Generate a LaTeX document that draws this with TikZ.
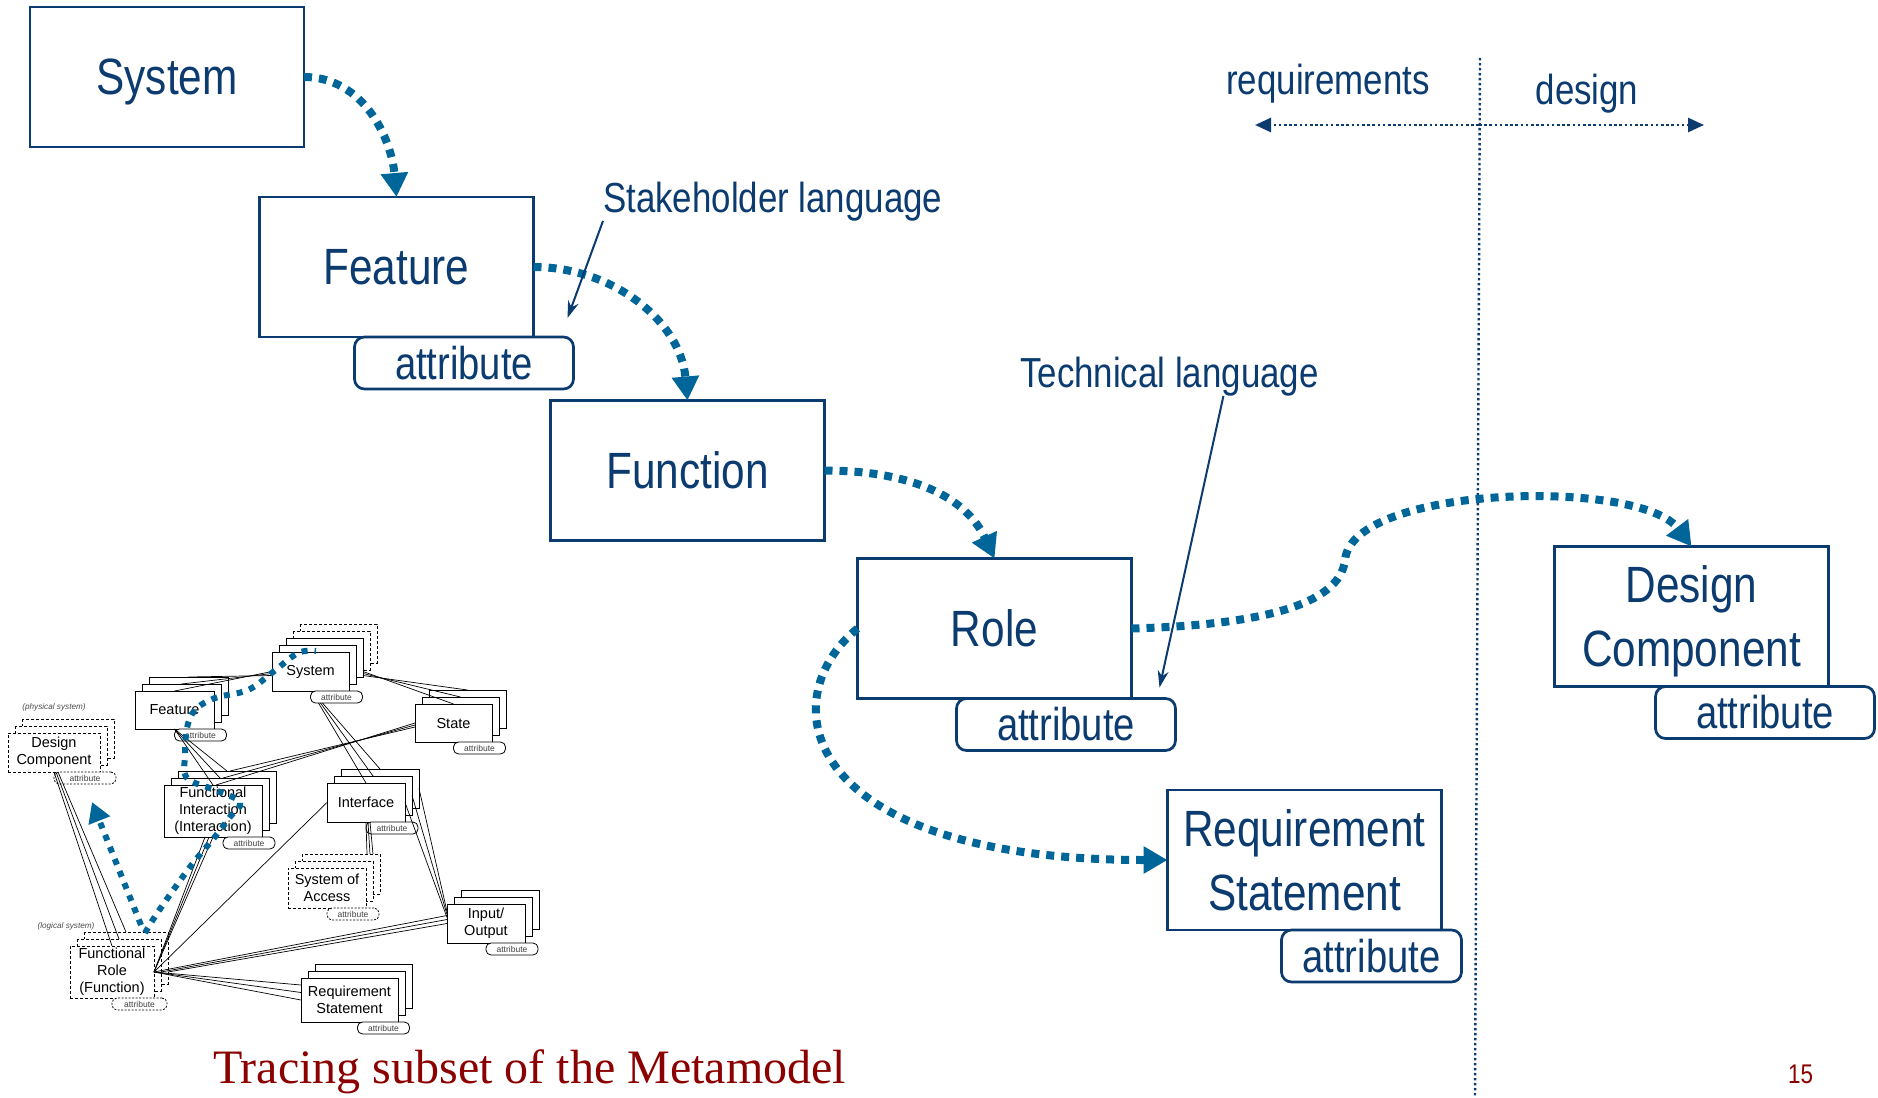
\documentclass[tikz,border=0pt]{standalone}
\usepackage{fontspec}
\setmainfont{Liberation Sans}
\newfontfamily\narrowfont[FakeStretch=0.83]{Liberation Sans}
\newfontfamily\titlefont{Liberation Serif}
\usetikzlibrary{arrows.meta}
\definecolor{navy}{HTML}{0B3B6F}
\definecolor{traceblue}{HTML}{00669A}
\definecolor{darkred}{HTML}{8B0000}
\newcommand{\DARKRED}[1]{\textcolor{darkred}{#1}}

\tikzset{
  box/.style={draw=navy, line width=2.7pt, fill=white, outer sep=0pt,
    minimum width=274pt, minimum height=140pt, align=center, text=navy,
    text depth=0pt, font=\narrowfont\fontsize{51}{64}\selectfont},
  attr/.style={draw=navy, line width=2.7pt, fill=white, outer sep=0pt,
    rounded corners=10pt, minimum width=219pt, minimum height=52pt,
    inner sep=0pt, text=navy, font=\narrowfont\fontsize{46}{50}\selectfont},
  note/.style={text=navy, inner sep=0pt, font=\narrowfont\fontsize{42}{50}\selectfont},
  trace/.style={draw=traceblue, line width=8pt, dash pattern=on 8pt off 7pt,
    -{Triangle[length=24pt,width=26pt]}},
  pointer/.style={draw=navy, line width=2pt, -{Stealth[length=17pt,width=11pt]}},
  sidearrow/.style={draw=navy, line width=2.6pt, dash pattern=on 2.6pt off 2.6pt,
    -{Triangle[length=16pt,width=14pt]}},
  divider/.style={draw=navy, line width=2.4pt, dash pattern=on 2.4pt off 2.6pt},
  % small metamodel sketch
  tbox/.style={draw, line width=1pt, fill=white, align=center, inner sep=1pt,
    outer sep=0pt, font=\fontsize{14.5}{17}\selectfont},
  tdashed/.style={tbox, dash pattern=on 3pt off 2pt},
  tlayer/.style={draw, line width=1pt, fill=white},
  tlayerd/.style={tlayer, dash pattern=on 3pt off 2pt},
  tpill/.style={draw, line width=.8pt, fill=white, rounded corners=5pt,
    minimum width=52pt, minimum height=12pt, inner sep=0pt, outer sep=0pt,
    anchor=north west, text=black!75, font=\fontsize{8.5}{9}\selectfont},
  tpilld/.style={tpill, dash pattern=on 2pt off 1.5pt},
  tlabel/.style={inner sep=0pt, text=black!70, font=\itshape\fontsize{8.2}{9}\selectfont},
  tlink/.style={line width=.7pt},
  tdots/.style={draw=traceblue, line width=6pt, dash pattern=on 6pt off 7pt},
}

% stacked box of the sketch: name, left, top, width, height, back layers, text, style
\newcommand\layered[8]{%
  \foreach \k/\st in {#6}
    \draw[\st] (#2+7*\k,-#3+7*\k) rectangle ++(#4,-#5);
  \node[#8, minimum width=#4pt, minimum height=#5pt, anchor=north west] (#1) at (#2,-#3) {#7};
}

\begin{document}
\begin{tikzpicture}[x=1pt,y=1pt]
\path[use as bounding box] (0,0) rectangle (1878,-1097);

% ---- metamodel sketch
\layered{tsys}{272}{652}{77}{39}{4/tlayerd,3/tlayerd,2/tlayer,1/tlayer}{System}{tbox}
\layered{tfeat}{135}{691}{79}{38}{2/tlayer,1/tlayer}{Feature}{tbox}
\layered{tstate}{415}{704}{77}{38}{2/tlayer,1/tlayer}{State}{tbox}
\layered{tdc}{8}{733}{92}{39}{2/tlayerd,1/tlayerd}{Design\\Component}{tdashed}
\layered{tfi}{164}{785}{98}{52}{2/tlayer,1/tlayer}{Functional\\Interaction\\(Interaction)}{tbox}
\layered{tintf}{327}{783}{78}{39}{2/tlayer,1/tlayer}{Interface}{tbox}
\layered{tsoa}{288}{868}{78}{40}{2/tlayerd,1/tlayerd}{System of\\Access}{tdashed}
\layered{tio}{447}{904}{78}{39}{2/tlayer,1/tlayer}{Input/\\Output}{tbox}
\layered{tfr}{70}{946}{84}{52}{2/tlayerd,1/tlayerd}{Functional\\Role\\(Function)}{tdashed}
\layered{trs}{301}{978}{97}{44}{2/tlayer,1/tlayer}{Requirement\\Statement}{tbox}

\node[tpill] (tsysattr) at (tsys.south) {attribute};
\node[tpill] (tfeatattr) at (tfeat.south) {attribute};
\node[tpill] (tstateattr) at (tstate.south) {attribute};
\node[tpilld, minimum width=62pt] (tdcattr) at (tdc.south) {attribute};
\node[tpill] (tfiattr) at ([xshift=10pt]tfi.south) {attribute};
\node[tpill] (tintfattr) at (tintf.south) {attribute};
\node[tpilld] (tsoaattr) at (tsoa.south) {attribute};
\node[tpill] (tioattr) at (tio.south) {attribute};
\node[tpilld, minimum width=55pt] (tfrattr) at (tfr.south) {attribute};
\node[tpill] (trsattr) at ([xshift=8pt]trs.south) {attribute};

\node[tlabel] (physlabel) at (54,-707) {(physical system)};
\node[tlabel] (logilabel) at (66,-926) {(logical system)};

\foreach \k in {0,1,2} {
  \draw[tlink] ([shift={(7*\k,7*\k)}]tfeat.north) -- ([yshift=-2*\k]tsys.west);
  \draw[tlink] ([shift={(14,-2*\k)}]tsys.east) -- ([shift={(7*\k,7*\k)}]tstate.north);
  \draw[tlink] ([xshift=8+2*\k]tsysattr.south west) -- ([shift={(7*\k,7*\k)}]tintf.north);
  \draw[tlink] (tfeat.south) -- ([shift={(7*\k,7*\k)}]tfi.north);
  \draw[tlink] ([yshift=-2*\k]tstate.west) -- ([shift={(3+7*\k,7*\k)}]tfi.north);
  \draw[tlink] ([xshift=2*\k]tdc.south) -- ([shift={(7*\k,7*\k)}]tfr.north);
  \draw[tlink] (tfr.east) -- ([xshift=-8+4*\k]tfi.south);
  \draw[tlink] ([xshift=7*\k]tfr.east) -- ([yshift=8-4*\k]tio.west);
  \draw[tlink] (tfr.east) -- ([yshift=15-7.5*\k]trs.west);
  \draw[tlink] ([shift={(7*\k,7*\k)}]tintf.east) -- ([yshift=6+3*\k]tio.west);
  \draw[tlink] ([xshift=2*\k]tintf.south) -- ([shift={(40+3*\k,14)}]tsoa.north);
}
\draw[tlink] (tfr.east) -- (tintf.west);

\draw[tdots] plot[smooth, tension=0.6] coordinates {(145,-933) (158,-912)
  (190,-867) (214,-838) (230,-817) (240,-802) (215,-790) (187,-778)
  (185,-755) (187,-728) (195,-710) (215,-698) (248,-690) (273,-672)
  (298,-653) (316,-651)};
\coordinate (tupstart) at (141,-925);
\coordinate (tupend) at (92,-802);
\draw[tdots, -{Triangle[length=20pt,width=22pt]}] (tupstart) -- (tupend);

% ---- requirements / design split
\coordinate (divtop) at (1480,-58);
\coordinate (divbot) at (1475,-1097);
\coordinate (divmid) at (1479,-125);
\coordinate (reqend) at (1255,-125);
\coordinate (desend) at (1704,-125);
\draw[divider] (divtop) -- (divbot);
\draw[sidearrow] (divmid) -- (reqend);
\draw[sidearrow] (divmid) -- (desend);
\node[note, anchor=base] (reqlabel) at (1328,-95) {requirements};
\node[note, anchor=base] (deslabel) at (1587,-105) {design};

% ---- main chain
\node[box] (sys) at (167,-77) {System};
\node[box] (feat) at (396.5,-267) {Feature};
\node[box] (func) at (687.5,-470.5) {Function};
\node[box] (role) at (994.5,-628.5) {Role};
\node[box] (dc) at (1691.5,-616.5) {Design\\Component};
\node[box] (rs) at (1304.5,-860) {Requirement\\Statement};

\node[attr, anchor=north east] (featattr) at ([xshift=40pt]feat.south east) {attribute};
\node[attr, anchor=north east] (roleattr) at ([xshift=44pt]role.south east) {attribute};
\node[attr, anchor=north east] (dcattr) at ([xshift=46pt]dc.south east) {attribute};
\node[attr, anchor=north east, minimum width=180pt] (rsattr) at ([xshift=20pt]rs.south east) {attribute};

\draw[trace] (sys.east) to[out=0,in=95] (feat.north);
\draw[trace] (feat.east) to[out=0,in=95] (func.north);
\draw[trace] (func.east) to[out=0,in=115] (role.north);
\draw[trace] (role.west) .. controls (770,-700) and (800,-860) .. (rs.west);
\coordinate (kink) at (1345,-560);
\draw[trace] (role.east) .. controls (1260,-625) and (1340,-605) .. (kink)
  .. controls (1352,-485) and (1640,-478) .. (dc.north);

\node[note, anchor=base west] (stake) at (603,-212) {Stakeholder language};
\node[note, anchor=base west] (tech) at (1020,-387) {Technical language};
\draw[pointer] (stake.south west) -- ([shift={(-6pt,19pt)}]featattr.north east);
\draw[pointer] ([xshift=54pt]tech.south) -- ([shift={(-16pt,11pt)}]roleattr.north east);

\node[anchor=base west, inner sep=0pt, font=\titlefont\fontsize{48}{50}\selectfont]
  (title) at (213,-1083) {\DARKRED{Tracing subset of the Metamodel}};
\node[anchor=base west, inner sep=0pt, font=\narrowfont\fontsize{27}{30}\selectfont]
  (pagenum) at (1788,-1083) {\DARKRED{15}};
\end{tikzpicture}
\end{document}
